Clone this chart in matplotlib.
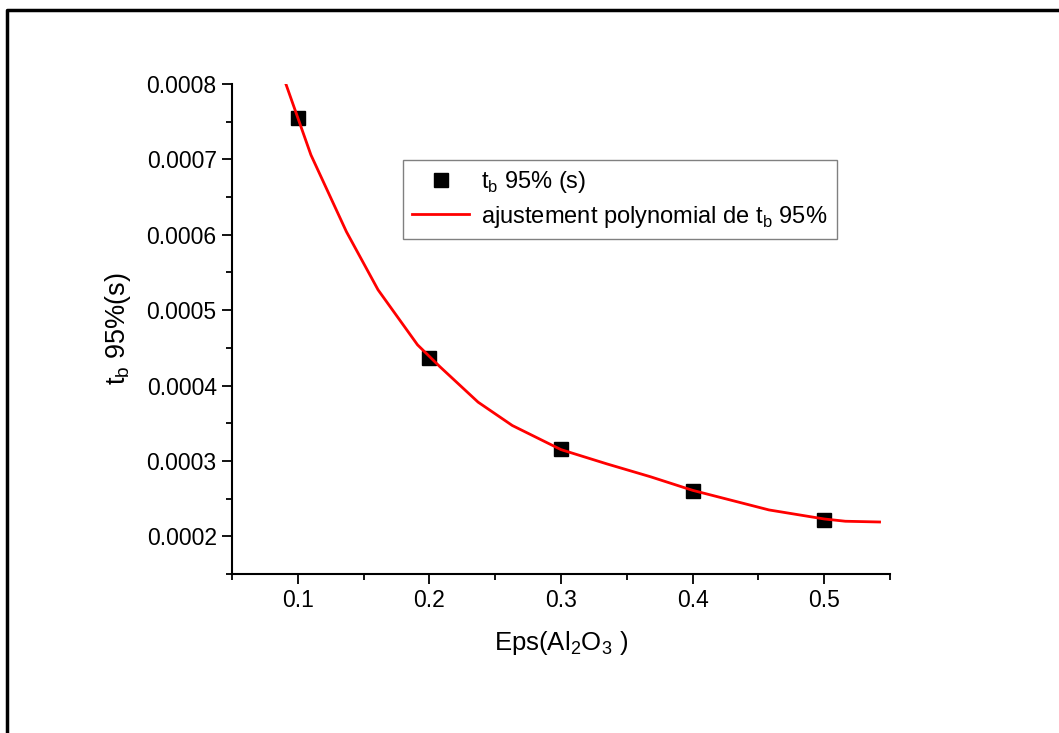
import numpy as np
import matplotlib
matplotlib.use("Agg")
import matplotlib.pyplot as plt
from matplotlib.lines import Line2D
from matplotlib.ticker import FormatStrFormatter, MultipleLocator

plt.rcParams['font.family'] = ['Liberation Sans', 'DejaVu Sans']
plt.rcParams['mathtext.fontset'] = 'custom'
plt.rcParams['mathtext.rm'] = 'Liberation Sans'

# Measured points
eps = [0.1, 0.2, 0.3, 0.4, 0.5]
tb95 = [0.000755, 0.000437, 0.000316, 0.00026, 0.000222]

# Polynomial fit curve
fit_x = [0.091, 0.11, 0.137, 0.161, 0.191, 0.208, 0.237, 0.263, 0.30,
         0.335, 0.368, 0.40, 0.458, 0.50, 0.516, 0.542]
fit_y = [0.0008, 0.000706, 0.000604, 0.000527, 0.000454, 0.000425,
         0.000378, 0.000347, 0.000315, 0.000296, 0.000279, 0.000261,
         0.000235, 0.000223, 0.00022, 0.000219]

fig = plt.figure(figsize=(10.59, 7.33), dpi=100)
ax = fig.add_axes([0.219, 0.2169, 0.6215, 0.6685])

ax.plot(eps, tb95, 's', color='black', markersize=10,
        label=r"t$_\mathregular{b}$ 95% (s)")
ax.plot(fit_x, fit_y, '-', color='red', linewidth=2,
        label=r"ajustement polynomial de t$_\mathregular{b}$ 95%")

ax.set_xlim(0.05, 0.55)
ax.set_ylim(0.00015, 0.0008)
ax.xaxis.set_major_locator(MultipleLocator(0.1))
ax.xaxis.set_minor_locator(MultipleLocator(0.05))
ax.yaxis.set_major_locator(MultipleLocator(0.0001))
ax.yaxis.set_minor_locator(MultipleLocator(0.00005))
ax.xaxis.set_major_formatter(FormatStrFormatter('%.1f'))
ax.yaxis.set_major_formatter(FormatStrFormatter('%.4f'))

for s in ['top', 'right']:
    ax.spines[s].set_visible(False)
for s in ['left', 'bottom']:
    ax.spines[s].set_linewidth(1.5)
ax.tick_params(which='major', direction='out', length=7, width=1.3,
               labelsize=16.5, pad=4)
ax.tick_params(which='minor', direction='out', length=4, width=1.3)

ax.set_xlabel(r"Eps(Al$_\mathregular{2}$O$_\mathregular{3}$ )", fontsize=18.5, labelpad=12)
ax.set_ylabel(r"t$_\mathregular{b}$ 95%(s)", fontsize=19.5, labelpad=10)

leg = ax.legend(loc='upper left', bbox_to_anchor=(0.26, 0.845),
                borderaxespad=0, fontsize=17, fancybox=False,
                edgecolor='gray', framealpha=1, handlelength=2.4,
                handletextpad=0.5, borderpad=0.4, labelspacing=0.35)
leg.get_frame().set_linewidth(1)

# frame around the picture (top and left edges)
fig.add_artist(Line2D([7 / 1059, 7 / 1059, 1.0], [0.0, 1 - 10 / 733, 1 - 10 / 733],
                      color='black', linewidth=2.5, transform=fig.transFigure))

fig.savefig("out.png", dpi=100)
